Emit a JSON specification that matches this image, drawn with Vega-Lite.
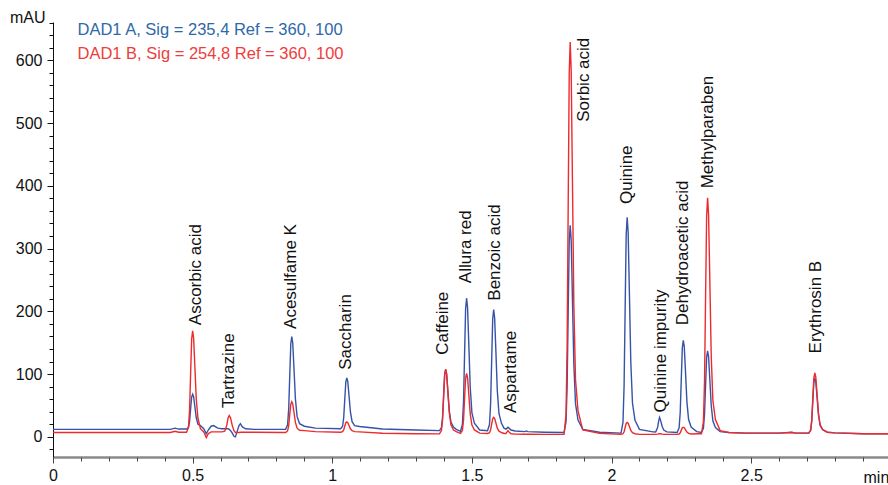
{
  "$schema": "https://vega.github.io/schema/vega-lite/v6.json",
  "width": 835,
  "height": 435,
  "autosize": {"type": "none"},
  "padding": {"left": 53, "top": 22, "right": 0, "bottom": 28},
  "background": "white",
  "config": {"font": "Liberation Sans", "view": {"stroke": null}},
  "datasets": {
    "traces": [
      {"t":0,"A":12,"B":7},{"t":0.2,"A":12,"B":7},{"t":0.42,"A":12,"B":7},{"t":0.437,"A":14,"B":9},{"t":0.45,"A":12.5,"B":7.5},{"t":0.478,"A":12.5,"B":7.5},
      {"t":0.485,"A":15,"B":15},{"t":0.489,"A":24,"B":42.6},{"t":0.493,"A":45.6,"B":104},{"t":0.4965,"A":63.5,"B":156},{"t":0.5,"A":68,"B":169},{"t":0.5035,"A":64,"B":157.7},{"t":0.508,"A":48.4,"B":112.3},{"t":0.513,"A":30.5,"B":60.5},{"t":0.519,"A":20,"B":29.7},{"t":0.528,"A":18,"B":13},
      {"t":0.54,"A":13,"B":8},{"t":0.549,"A":5,"B":-1},{"t":0.556,"A":11,"B":5},{"t":0.566,"A":17,"B":8},{"t":0.575,"A":18,"B":8},{"t":0.59,"A":14,"B":8},{"t":0.605,"A":13,"B":8},
      {"t":0.615,"A":13,"B":9},{"t":0.622,"A":13,"B":18},{"t":0.627,"A":13,"B":30},{"t":0.631,"A":12,"B":34},{"t":0.636,"A":10,"B":30},{"t":0.642,"A":6,"B":18},{"t":0.648,"A":1,"B":10},{"t":0.653,"A":0,"B":7},{"t":0.659,"A":8,"B":7},{"t":0.666,"A":18,"B":7},{"t":0.671,"A":21,"B":7.5},{"t":0.678,"A":16,"B":7.5},{"t":0.69,"A":13,"B":7.5},{"t":0.72,"A":12,"B":7.5},
      {"t":0.833,"A":12,"B":7},{"t":0.84,"A":19.4,"B":9.5},{"t":0.844,"A":44.6,"B":17.8},{"t":0.848,"A":100.8,"B":36.4},{"t":0.8515,"A":148,"B":52},{"t":0.855,"A":160,"B":56},{"t":0.8585,"A":149.6,"B":52.6},{"t":0.863,"A":108.2,"B":38.9},{"t":0.868,"A":60.8,"B":23.2},{"t":0.874,"A":32.7,"B":13.9},{"t":0.883,"A":21,"B":10.5},{"t":0.9,"A":17,"B":10},{"t":0.94,"A":14,"B":8.5},
      {"t":1.03,"A":13,"B":7.5},{"t":1.037,"A":17,"B":8.3},{"t":1.041,"A":30.8,"B":11.1},{"t":1.045,"A":61.6,"B":17.4},{"t":1.0485,"A":87.5,"B":22.7},{"t":1.052,"A":94,"B":24},{"t":1.0555,"A":88.3,"B":22.8},{"t":1.06,"A":65.7,"B":18.2},{"t":1.065,"A":39.7,"B":12.9},{"t":1.071,"A":24.3,"B":9.8},{"t":1.08,"A":18,"B":8.5},{"t":1.098,"A":16.5,"B":8},{"t":1.18,"A":12.7,"B":5.8},{"t":1.3,"A":11,"B":5},
      {"t":1.384,"A":10,"B":4.8},{"t":1.391,"A":14.9,"B":10},{"t":1.395,"A":31.3,"B":27.5},{"t":1.399,"A":68.2,"B":66.6},{"t":1.4025,"A":99.2,"B":99.6},{"t":1.406,"A":107,"B":108},{"t":1.4095,"A":100.2,"B":100.6},{"t":1.414,"A":73,"B":71.8},{"t":1.419,"A":42,"B":38.8},{"t":1.425,"A":23.6,"B":19.2},{"t":1.434,"A":15.8,"B":11},{"t":1.444,"A":12,"B":8.5},
      {"t":1.459,"A":9,"B":5.5},{"t":1.466,"A":19.7,"B":10.3},{"t":1.47,"A":55.6,"B":26.5},{"t":1.474,"A":136,"B":62.8},{"t":1.4775,"A":204,"B":93.4},{"t":1.481,"A":221,"B":101},{"t":1.4845,"A":206,"B":94.3},{"t":1.489,"A":147,"B":67.5},{"t":1.494,"A":79,"B":37},{"t":1.5,"A":38.7,"B":18.9},{"t":1.509,"A":21.7,"B":11.2},{"t":1.528,"A":11,"B":6},
      {"t":1.556,"A":10,"B":5.5},{"t":1.563,"A":19.7,"B":6.8},{"t":1.567,"A":52.5,"B":11.1},{"t":1.571,"A":125.8,"B":20.8},{"t":1.5745,"A":187.6,"B":29},{"t":1.578,"A":203,"B":31},{"t":1.5815,"A":189.5,"B":29.2},{"t":1.586,"A":135.5,"B":22.1},{"t":1.591,"A":73.7,"B":13.9},{"t":1.597,"A":37,"B":9.1},{"t":1.606,"A":21.6,"B":7},
      {"t":1.615,"A":14,"B":5.5},{"t":1.622,"A":12.5,"B":5.5},{"t":1.626,"A":14,"B":8},{"t":1.629,"A":15.5,"B":10},{"t":1.633,"A":14,"B":8},{"t":1.64,"A":11,"B":5},{"t":1.655,"A":9.5,"B":4.5},{"t":1.69,"A":8.5,"B":4.2},{"t":1.695,"A":9.5,"B":4.2},{"t":1.7,"A":8.5,"B":4.2},{"t":1.76,"A":7.5,"B":4},
      {"t":1.83,"A":7,"B":4},{"t":1.837,"A":23.5,"B":35},{"t":1.841,"A":79.6,"B":141.5},{"t":1.845,"A":205,"B":379},{"t":1.8485,"A":310.6,"B":579},{"t":1.852,"A":337,"B":629},{"t":1.8555,"A":314,"B":585},{"t":1.86,"A":221.5,"B":410},{"t":1.865,"A":116,"B":210},{"t":1.871,"A":53,"B":91.5},{"t":1.88,"A":26.8,"B":41.5},{"t":1.897,"A":12,"B":11},{"t":1.957,"A":7.4,"B":5.8},
      {"t":2.034,"A":6,"B":4},{"t":2.041,"A":23.2,"B":5},{"t":2.045,"A":81.7,"B":8.2},{"t":2.049,"A":212,"B":15.4},{"t":2.0525,"A":322.5,"B":21.5},{"t":2.056,"A":350,"B":23},{"t":2.0595,"A":326,"B":21.7},{"t":2.064,"A":229.6,"B":16.4},{"t":2.069,"A":119.5,"B":10.3},{"t":2.075,"A":54,"B":6.7},{"t":2.084,"A":26.6,"B":5.1},{"t":2.1,"A":12,"B":4},{"t":2.148,"A":8,"B":4},
      {"t":2.158,"A":7.8,"B":4},{"t":2.165,"A":15,"B":4.5},{"t":2.169,"A":26,"B":5},{"t":2.172,"A":31,"B":5},{"t":2.176,"A":26,"B":5},{"t":2.181,"A":17,"B":4.5},{"t":2.187,"A":11,"B":4},{"t":2.198,"A":8,"B":4},
      {"t":2.235,"A":7,"B":4},{"t":2.242,"A":14.4,"B":4.6},{"t":2.246,"A":39.3,"B":6.5},{"t":2.25,"A":95,"B":10.8},{"t":2.2535,"A":142,"B":14.5},{"t":2.257,"A":154,"B":15.4},{"t":2.2605,"A":143.7,"B":14.6},{"t":2.265,"A":102.5,"B":11.4},{"t":2.27,"A":55.5,"B":7.8},{"t":2.276,"A":27.6,"B":5.6},{"t":2.285,"A":15.8,"B":4.7},{"t":2.305,"A":8.5,"B":5},
      {"t":2.322,"A":7,"B":5},{"t":2.329,"A":13.5,"B":23.8},{"t":2.333,"A":35.6,"B":87.7},{"t":2.337,"A":85,"B":230.6},{"t":2.3405,"A":126.6,"B":351},{"t":2.344,"A":137,"B":381},{"t":2.3475,"A":128,"B":354.7},{"t":2.352,"A":91.5,"B":249.4},{"t":2.357,"A":50,"B":129},{"t":2.363,"A":25.2,"B":57.6},{"t":2.372,"A":14.8,"B":27.6},{"t":2.389,"A":8.5,"B":10},
      {"t":2.42,"A":7,"B":7},{"t":2.48,"A":6,"B":6},{"t":2.6,"A":6,"B":6},{"t":2.645,"A":7.5,"B":7},{"t":2.66,"A":6,"B":6},
      {"t":2.706,"A":6,"B":6},{"t":2.713,"A":10.4,"B":10.8},{"t":2.717,"A":25.4,"B":27.1},{"t":2.721,"A":58.8,"B":63.6},{"t":2.7245,"A":87,"B":94.3},{"t":2.728,"A":94,"B":102},{"t":2.7315,"A":87.8,"B":95.3},{"t":2.736,"A":63.2,"B":68.4},{"t":2.741,"A":35,"B":37.7},{"t":2.747,"A":18.3,"B":19.4},{"t":2.756,"A":11.3,"B":11.8},{"t":2.773,"A":7.5,"B":7.5},{"t":2.8,"A":6.5,"B":6.5},{"t":2.9,"A":5,"B":5},{"t":2.99,"A":5,"B":5}
    ],
    "peaks": [
      {"name":"Ascorbic acid","t":0.511,"v":178},
      {"name":"Tartrazine","t":0.63,"v":46},
      {"name":"Acesulfame K","t":0.852,"v":172},
      {"name":"Saccharin","t":1.05,"v":107},
      {"name":"Caffeine","t":1.395,"v":131},
      {"name":"Allura red","t":1.479,"v":245},
      {"name":"Benzoic acid","t":1.581,"v":217},
      {"name":"Aspartame","t":1.639,"v":38},
      {"name":"Sorbic acid","t":1.901,"v":502},
      {"name":"Quinine","t":2.057,"v":371},
      {"name":"Quinine impurity","t":2.176,"v":39},
      {"name":"Dehydroacetic acid","t":2.255,"v":178},
      {"name":"Methylparaben","t":2.345,"v":396},
      {"name":"Erythrosin B","t":2.731,"v":133}
    ]
  },
  "layer": [
    {
      "data": {"name": "traces"},
      "transform": [{"fold": ["A", "B"], "as": ["series", "value"]}],
      "mark": {"type": "line", "strokeWidth": 1.4, "clip": true, "interpolate": "linear"},
      "encoding": {
        "x": {
          "field": "t", "type": "quantitative",
          "scale": {"domain": [0, 2.99], "nice": false, "zero": false},
          "axis": {
            "orient": "bottom", "values": [0, 0.5, 1, 1.5, 2, 2.5], "format": "~g",
            "grid": false, "tickSize": 6, "tickColor": "#444", "tickWidth": 1,
            "domainColor": "#8a8a8a", "domainWidth": 2.5,
            "labelFontSize": 16, "labelColor": "#111", "labelPadding": 4, "labelFlush": false,
            "title": "min", "titleX": 810, "titleY": 25, "titleAlign": "left", "titleBaseline": "alphabetic",
            "titleFontSize": 16, "titleFontWeight": "normal", "titleColor": "#111"
          }
        },
        "y": {
          "field": "value", "type": "quantitative",
          "scale": {"domain": [-32, 661], "nice": false, "zero": false},
          "axis": {
            "orient": "left", "values": [0, 100, 200, 300, 400, 500, 600], "format": "d",
            "grid": false, "tickSize": 6, "tickColor": "#111", "domainColor": "#111", "domainWidth": 1,
            "labelFontSize": 16, "labelColor": "#111", "labelPadding": 5,
            "title": "mAU", "titleAngle": 0, "titleAlign": "right", "titleBaseline": "alphabetic",
            "titleX": -8, "titleY": 0, "titleFontSize": 16, "titleFontWeight": "normal", "titleColor": "#111"
          }
        },
        "color": {
          "field": "series", "type": "nominal",
          "scale": {"domain": ["A", "B"], "range": ["#3553a8", "#ee2a2d"]},
          "legend": {
            "orient": "none", "legendX": 8, "legendY": 0, "title": null,
            "padding": 0, "offset": 0, "rowPadding": 7,
            "symbolSize": 0, "symbolOpacity": 0, "symbolStrokeWidth": 0, "labelOffset": 0,
            "labelFontSize": 16.5, "labelLimit": 400, "labelBaseline": "middle",
            "labelExpr": "datum.label == 'A' ? 'DAD1 A, Sig = 235,4 Ref = 360, 100' : 'DAD1 B, Sig = 254,8 Ref = 360, 100'",
            "encode": {"labels": {"update": {"fill": {"signal": "datum.value == 'A' ? '#2d68a8' : '#ef3c3c'"}}}}
          }
        }
      }
    },
    {
      "data": {"name": "peaks"},
      "mark": {"type": "text", "angle": 270, "align": "left", "baseline": "middle", "fontSize": 17, "color": "#111"},
      "encoding": {
        "x": {
          "field": "t", "type": "quantitative",
          "axis": {
            "orient": "bottom", "values": [0,0.1,0.2,0.3,0.4,0.5,0.6,0.7,0.8,0.9,1,1.1,1.2,1.3,1.4,1.5,1.6,1.7,1.8,1.9,2,2.1,2.2,2.3,2.4,2.5,2.6,2.7,2.8,2.9],
            "labels": false, "domain": false, "grid": false, "tickSize": 4, "tickColor": "#444", "title": null
          }
        },
        "y": {
          "field": "v", "type": "quantitative",
          "axis": {
            "orient": "left", "values": [-20,0,20,40,60,80,100,120,140,160,180,200,220,240,260,280,300,320,340,360,380,400,420,440,460,480,500,520,540,560,580,600,620,640,660],
            "labels": false, "domain": false, "grid": false, "tickSize": 4, "tickColor": "#111", "title": null
          }
        },
        "text": {"field": "name", "type": "nominal"}
      }
    }
  ],
  "resolve": {"axis": {"x": "independent", "y": "independent"}}
}
